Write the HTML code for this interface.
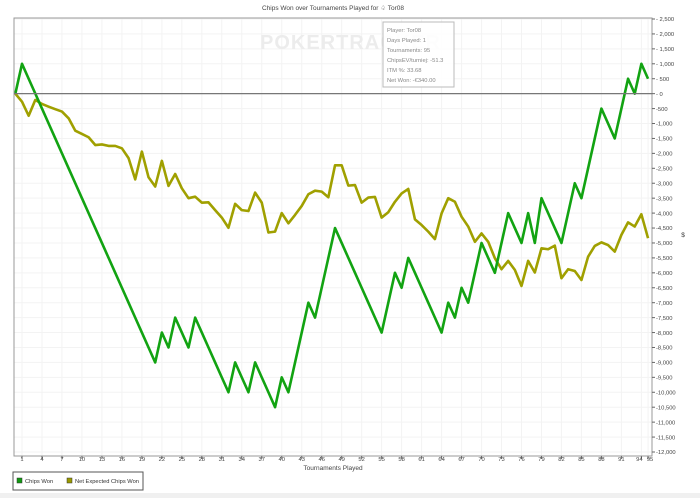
<!DOCTYPE html>
<html><head><meta charset="utf-8"><style>
body{margin:0;background:#fff;font-family:"Liberation Sans",sans-serif;}
svg text{font-family:"Liberation Sans",sans-serif;}
</style></head><body>
<svg id="c" width="700" height="498" xmlns="http://www.w3.org/2000/svg">
<rect x="0" y="493" width="700" height="5" fill="#f0f0f0"/>
<text x="333" y="10" font-size="6.5" text-anchor="middle" fill="#444">Chips Won over Tournaments Played for ♤ Tor08</text>
<g id="grid"></g>
<text x="260" y="49" font-size="20" font-weight="bold" fill="#ececec" letter-spacing="1">POKERTRACKER</text>
<g id="series"></g>
<rect x="14" y="18" width="638" height="438" fill="none" stroke="#999" stroke-width="1"/>
<line id="zero" stroke="#777" stroke-width="1.2"/>
<g id="axes"></g>
<text x="333" y="470" font-size="6.5" text-anchor="middle" fill="#444">Tournaments Played</text>
<text x="683" y="237" font-size="6.5" fill="#333" text-anchor="middle">$</text>
<g>
<rect x="383" y="22" width="71" height="65" fill="#fff" fill-opacity="0.9" stroke="#bbb"/>
<text font-size="5.8" fill="#888">
<tspan x="387" y="32">Player: Tor08</tspan>
<tspan x="387" y="42">Days Played: 1</tspan>
<tspan x="387" y="52">Tournaments: 95</tspan>
<tspan x="387" y="62">ChipsEV/turniej: -51.3</tspan>
<tspan x="387" y="72">ITM %: 33.68</tspan>
<tspan x="387" y="82">Net Won: -€340.00</tspan>
</text></g>
<g>
<rect x="13" y="472" width="130" height="18" fill="#fff" stroke="#555"/>
<g><rect x="17" y="478" width="5" height="5" fill="#119911" stroke="#333" stroke-width="0.5"/><text x="25" y="483" font-size="5.8" fill="#333">Chips Won</text></g>
<g><rect x="67" y="478" width="5" height="5" fill="#9a9a00" stroke="#333" stroke-width="0.5"/><text x="75" y="483" font-size="5.8" fill="#333" textLength="64" lengthAdjust="spacingAndGlyphs">Net Expected Chips Won</text></g>
</g>
</svg>
<script>
const chipsWon=[0,1000,500,0,-500,-1000,-1500,-2000,-2500,-3000,-3500,-4000,-4500,-5000,-5500,-6000,-6500,-7000,-7500,-8000,-8500,-9000,-8000,-8500,-7500,-8000,-8500,-7500,-8000,-8500,-9000,-9500,-10000,-9000,-9500,-10000,-9000,-9500,-10000,-10500,-9500,-10000,-9000,-8000,-7000,-7500,-6500,-5500,-4500,-5000,-5500,-6000,-6500,-7000,-7500,-8000,-7000,-6000,-6500,-5500,-6000,-6500,-7000,-7500,-8000,-7000,-7500,-6500,-7000,-6000,-5000,-5500,-6000,-5000,-4000,-4500,-5000,-4000,-5000,-3500,-4000,-4500,-5000,-4000,-3000,-3500,-2500,-1500,-500,-1000,-1500,-500,500,0,1000,500];
const netExpected=[0,-270,-740,-210,-345,-435,-520,-600,-825,-1240,-1350,-1460,-1720,-1700,-1750,-1750,-1830,-2160,-2870,-1940,-2800,-3110,-2250,-3090,-2690,-3170,-3500,-3450,-3650,-3640,-3900,-4150,-4490,-3690,-3900,-3930,-3315,-3650,-4650,-4620,-4000,-4340,-4060,-3760,-3370,-3250,-3280,-3470,-2400,-2400,-3080,-3060,-3650,-3480,-3460,-4150,-3970,-3620,-3340,-3190,-4210,-4400,-4620,-4870,-4010,-3500,-3620,-4120,-4450,-4960,-4680,-4960,-5510,-5880,-5600,-5900,-6440,-5600,-5990,-5180,-5210,-5090,-6180,-5880,-5940,-6240,-5460,-5100,-4980,-5070,-5290,-4730,-4310,-4450,-4040,-4840];
const xTicks=[1,4,7,10,13,16,19,22,25,28,31,34,37,40,43,46,49,52,55,58,61,64,67,70,73,76,79,82,85,88,91,94,95];
const yTicks=[2500,2000,1500,1000,500,0,-500,-1000,-1500,-2000,-2500,-3000,-3500,-4000,-4500,-5000,-5500,-6000,-6500,-7000,-7500,-8000,-8500,-9000,-9500,-10000,-10500,-11000,-11500,-12000];
const NS="http://www.w3.org/2000/svg";
const X=i=>22+(i-1)*6.66;
const Y=v=>19+(2500-v)*(433/14500);
function mk(t,a,p){const e=document.createElementNS(NS,t);for(const k in a)e.setAttribute(k,a[k]);p.appendChild(e);return e;}
const grid=document.getElementById('grid'),axes=document.getElementById('axes'),ser=document.getElementById('series');
yTicks.forEach(v=>{
 const l=mk('line',{x1:14,x2:652,y1:Y(v),y2:Y(v),stroke:'#f3f3f3','stroke-width':1},grid);
 
 
 const tk=mk('line',{x1:652,x2:655,y1:Y(v),y2:Y(v),stroke:'#666'},axes);
 
 
 const t=mk('text',{x:656,y:Y(v)+2.2,'font-size':5.8,fill:'#444'},axes);
 t.textContent=v<0?'-'+Math.abs(v).toLocaleString('en-US'):(v===0?'- 0':'- '+v.toLocaleString('en-US'));
 
 
});
xTicks.forEach(i=>{
 const l=mk('line',{x1:X(i),x2:X(i),y1:18,y2:456,stroke:'#f3f3f3','stroke-width':1},grid);
 
 
 const tk=mk('line',{x1:X(i),x2:X(i),y1:456,y2:459,stroke:'#666'},axes);
 
 
 const t=mk('text',{x:X(i)+(i===94?-2:i===95?2:0),y:461,'font-size':5.8,fill:'#444','text-anchor':'middle'},axes);
 t.textContent=i;
 
 
});
const z=document.getElementById('zero');
z.setAttribute('x1',14);z.setAttribute('x2',652);z.setAttribute('y1',Y(0));z.setAttribute('y2',Y(0));
function line(d,c,name){
 const p=mk('polyline',{points:d.map((v,i)=>X(i)+','+Y(v)).join(' '),fill:'none',stroke:c,'stroke-width':2.6,'stroke-linejoin':'round'},ser);
 
 
}
line(netExpected,'#a0a000','net-expected-line');
line(chipsWon,'#12a312','chips-won-line');
</script>
</body></html>
